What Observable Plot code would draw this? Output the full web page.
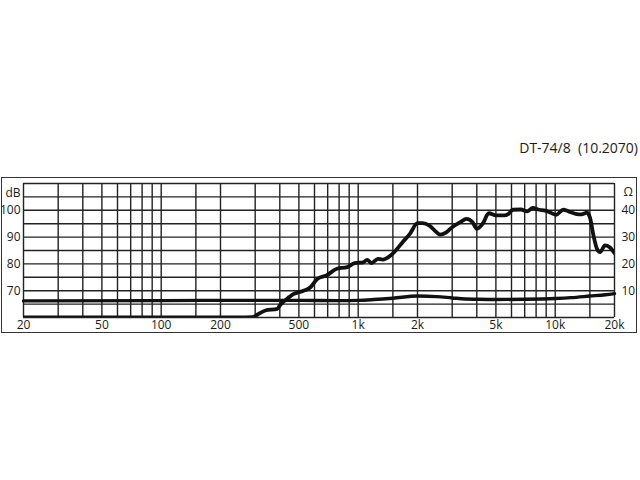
<!DOCTYPE html>
<html>
<head>
<meta charset="utf-8">
<script src="https://cdn.jsdelivr.net/npm/d3@7"></script>
<script src="https://cdn.jsdelivr.net/npm/@observablehq/plot@0.6"></script>
<style>
  html, body { margin: 0; padding: 0; background: #fff; }
  #wrap { position: relative; width: 640px; height: 480px; font-family: "Open Sans", sans-serif; }
  #title { position: absolute; right: 2px; top: 138px; font-size: 14px; color: #1a1a1a; white-space: pre; }
  #box { position: absolute; left: 1px; top: 177px; width: 636px; height: 156px; border: 1.5px solid #333; box-sizing: border-box; pointer-events: none; }
  #chart { position: absolute; left: 0; top: 0; }
</style>
</head>
<body>
<div id="wrap">
  <div id="chart"></div>
  <div id="box"></div>
  <div id="title">DT-74/8  (10.2070)</div>
</div>
<script>
// Frequency grid (Hz)
const gridFreqs = [20, 30, 40, 50, 60, 70, 80, 90, 100, 150, 200, 300, 400, 500, 600, 700, 800, 900,
  1000, 1500, 2000, 3000, 4000, 5000, 6000, 7000, 8000, 9000, 10000, 15000, 20000];
const gridDb = [60, 65, 70, 75, 80, 85, 90, 95, 100, 105, 110];
const xTicks = [20, 50, 100, 200, 500, 1000, 2000, 5000, 10000, 20000];
const xTickLabels = ["20", "50", "100", "200", "500", "1k", "2k", "5k", "10k", "20k"];
const dbTicks = [70, 80, 90, 100];
const ohmTicks = [10, 20, 30, 40];

// SPL curve (dB)
const splFreq = [20, 250, 290, 310, 338, 388, 400, 446, 471, 500, 573, 620, 690, 780, 880, 960, 1060, 1110,
  1170, 1260, 1330, 1460, 1550, 1680, 1830, 2000, 2120, 2300, 2500, 2600, 2800, 3000, 3300, 3550, 3800,
  4000, 4300, 4600, 5000, 5500, 5800, 6100, 6700, 7200, 7700, 8300, 8900, 9500, 10100, 11000, 11600,
  12700, 13600, 14500, 15000, 15700, 16300, 16900, 17900, 18900, 20000];
const splDb = [60, 60, 60.1, 61.2, 62.6, 63.2, 64.5, 67.6, 68.8, 69.4, 71.3, 74.4, 75.7, 78.2, 78.8, 80.3, 80.6, 81.5,
  80.3, 81.9, 81.6, 83.1, 85, 88.1, 91.2, 95.2, 95.2, 94.3, 91.8, 90.9, 91.8, 93.7, 95.6, 96.8, 95.6,
  93.1, 95.2, 98.9, 98.1, 98.1, 98.7, 100.2, 100.3, 99.6, 100.9, 100.2, 99.9, 99.1, 98.3, 100.2, 99.7,
  98.7, 98.5, 99.1, 97.4, 90, 85.6, 84.4, 86.9, 86.2, 84];

// Impedance curve (Ohm)
const impFreq = [20, 100, 200, 300, 500, 800, 1000, 1200, 1500, 2000, 2500, 3000, 3500, 4000, 5000, 7000,
  10000, 12000, 15000, 18000, 20000];
const impOhm = [6.2, 6.3, 6.4, 6.4, 6.4, 6.3, 6.4, 6.7, 7.2, 8.0, 7.8, 7.3, 6.9, 6.8, 6.7, 6.8,
  7.1, 7.4, 8.0, 8.5, 8.9];

const ohmOffset = 60; // right axis: Ohm = dB - 60
const spl = splFreq.map((f, i) => ({f, v: splDb[i]}));
const imp = impFreq.map((f, i) => ({f, v: impOhm[i] + ohmOffset}));

const ink = "#111";
const gridInk = "#222";
const labelInk = "#1a1a1a";
const fs = 12;

const chart = Plot.plot({
  width: 640,
  height: 480,
  marginTop: 183,
  marginBottom: 163,
  marginLeft: 23,
  marginRight: 26,
  style: {fontFamily: "Open Sans, sans-serif", fontSize: fs + "px", color: labelInk, background: "transparent"},
  x: {type: "log", domain: [20, 20000], axis: null},
  y: {domain: [60, 110], axis: null},
  marks: [
    Plot.ruleX(gridFreqs, {x: d => d, stroke: gridInk, strokeWidth: 1.4}),
    Plot.ruleY(gridDb, {y: d => d, stroke: gridInk, strokeWidth: 1.4}),
    Plot.line(imp, {x: "f", y: "v", stroke: ink, strokeWidth: 3.4, curve: "monotone-x"}),
    Plot.line(spl, {x: "f", y: "v", stroke: ink, strokeWidth: 3.8, curve: "monotone-x", clip: true}),
    // bottom frequency labels
    Plot.text(xTicks, {x: d => d, text: (d, i) => xTickLabels[i], frameAnchor: "bottom",
      lineAnchor: "top", dy: 3, fontSize: fs, fill: labelInk}),
    // left dB labels
    Plot.text(dbTicks, {y: d => d, text: d => String(d), frameAnchor: "left",
      textAnchor: "end", dx: -3, fontSize: fs, fill: labelInk}),
    // right Ohm labels
    Plot.text(dbTicks, {y: d => d, text: (d, i) => String(ohmTicks[i]), frameAnchor: "right",
      textAnchor: "start", dx: 7, fontSize: fs, fill: labelInk}),
    Plot.text(["dB"], {frameAnchor: "top-left", textAnchor: "end", dx: -3, dy: 5, fontSize: fs, fill: labelInk}),
    Plot.text(["Ω"], {frameAnchor: "top-right", textAnchor: "start", dx: 9, dy: 4, fontSize: fs, fill: labelInk})
  ]
});
document.getElementById("chart").appendChild(chart);
</script>
</body>
</html>
